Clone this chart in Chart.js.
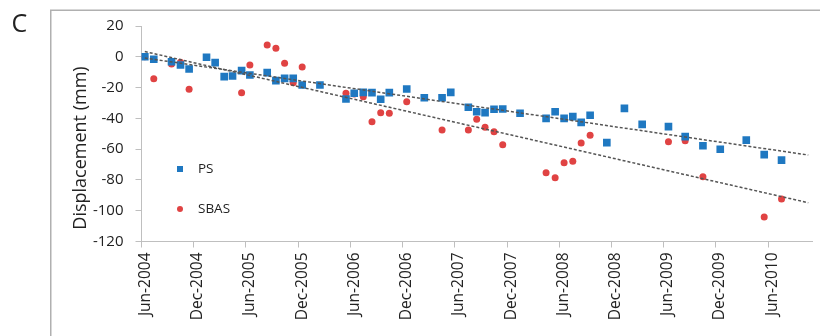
<!DOCTYPE html>
<html>
<head>
<meta charset="utf-8">
<script src="https://cdn.jsdelivr.net/npm/chart.js@4.4.1/dist/chart.umd.min.js"></script>
<style>
html,body{margin:0;padding:0;background:#fff;}
canvas{display:block;}
</style>
</head>
<body>
<canvas id="c" width="820" height="336"></canvas>
<script>
// x values are months since 1 Jun 2004
const tickMonths = [0, 6, 12, 18, 24, 30, 36, 42, 48, 54, 60, 66, 72];
const tickLabels = ['Jun-2004','Dec-2004','Jun-2005','Dec-2005','Jun-2006','Dec-2006','Jun-2007','Dec-2007','Jun-2008','Dec-2008','Jun-2009','Dec-2009','Jun-2010'];
const yTicks = [20, 0, -20, -40, -60, -80, -100, -120];

const psMonths = [0.38,1.41,3.45,4.48,5.47,7.47,8.46,9.50,10.46,11.50,12.45,14.44,15.44,16.44,17.43,18.46,20.50,23.49,24.44,25.48,26.48,27.48,28.47,30.47,32.49,34.53,35.53,37.55,38.51,39.47,40.50,41.50,43.49,46.48,47.52,48.55,49.55,50.51,51.54,53.46,55.48,57.52,60.54,62.46,64.50,66.49,69.48,71.54,73.53];
const psValues = [0,-1.6,-3.2,-5.3,-7.9,-0.3,-3.8,-12.9,-12.5,-9.0,-11.8,-10.3,-15.5,-14.0,-14.0,-18.3,-18.3,-27.4,-23.7,-23.1,-23.3,-27.6,-23.3,-20.9,-26.6,-26.6,-23.1,-32.8,-35.7,-36.3,-34.1,-33.9,-36.7,-40.0,-35.7,-40.0,-38.9,-42.6,-38.0,-55.8,-33.5,-43.9,-45.4,-51.9,-57.8,-60.1,-54.1,-63.6,-67.1];

const sbasMonths = [0.38,1.41,3.45,4.48,5.47,11.50,12.45,14.44,15.44,16.44,17.43,18.46,23.49,24.44,25.48,26.48,27.48,28.47,30.47,34.53,37.55,38.51,39.47,40.50,41.50,46.48,47.52,48.55,49.55,50.51,51.54,60.54,62.46,64.50,71.54,73.53];
const sbasValues = [0,-14.2,-4.7,-3.6,-21.1,-23.3,-5.3,7.7,5.5,-4.2,-16.8,-6.6,-23.7,-24.2,-25.9,-42.2,-36.3,-36.7,-29.2,-47.6,-47.6,-40.6,-45.8,-48.7,-57.1,-75.3,-78.6,-68.8,-67.9,-56.0,-51.0,-55.2,-54.5,-77.9,-104.1,-92.4];

const psTrendMonths = [0.38, 76.6];
const psTrendValues = [-0.8, -63.8];
const sbasTrendMonths = [0.38, 76.6];
const sbasTrendValues = [3.4, -94.8];

const panelLabel = 'C';
const yTitle = 'Displacement (mm)';
const psLabel = 'PS';
const sbasLabel = 'SBAS';

const BLUE = '#1f78c1';
const RED = '#e04343';
const TREND = '#555555';
const AXIS = '#bfbfbf';
const TEXT = '#222222';

function pts(xs, ys) { return xs.map((x, i) => ({x: x, y: ys[i]})); }

Chart.defaults.font.family = '"Open Sans", sans-serif';
Chart.defaults.color = TEXT;

const deco = {
  id: 'deco',
  beforeDraw(chart) {
    const ctx = chart.ctx;
    ctx.save();
    ctx.fillStyle = '#ffffff';
    ctx.fillRect(0, 0, chart.width, chart.height);
    ctx.strokeStyle = '#b0b0b0';
    ctx.lineWidth = 1.5;
    ctx.strokeRect(50.75, 10.25, 900, 500);
    ctx.fillStyle = TEXT;
    ctx.font = '25px "Open Sans"';
    ctx.textAlign = 'left';
    ctx.textBaseline = 'alphabetic';
    ctx.fillText(panelLabel, 11.5, 32);
    ctx.translate(86, 148);
    ctx.rotate(-Math.PI / 2);
    ctx.font = '18px "Open Sans"';
    ctx.textAlign = 'center';
    ctx.fillText(yTitle, 0, 0);
    ctx.restore();
  },
  afterDraw(chart) {
    const ctx = chart.ctx;
    ctx.save();
    const items = chart.data.datasets.filter(d => d.legendY !== undefined);
    items.forEach(d => {
      const y = d.legendY;
      ctx.fillStyle = d.backgroundColor;
      if (d.pointStyle === 'rect') {
        ctx.fillRect(177, y - 3, 6, 6);
      } else {
        ctx.beginPath();
        ctx.arc(180, y, 3, 0, Math.PI * 2);
        ctx.fill();
      }
      ctx.fillStyle = TEXT;
      ctx.font = '13.5px "Open Sans"';
      ctx.textAlign = 'left';
      ctx.textBaseline = 'middle';
      ctx.fillText(d.label, 198, y);
    });
    ctx.restore();
  }
};

new Chart(document.getElementById('c'), {
  type: 'scatter',
  data: {
    datasets: [
      { label: psLabel, data: pts(psMonths, psValues), pointStyle: 'rect', pointRadius: 5.4, backgroundColor: BLUE, borderWidth: 0, order: 2, legendY: 169 },
      { label: sbasLabel, data: pts(sbasMonths, sbasValues), pointStyle: 'circle', pointRadius: 3.5, backgroundColor: RED, borderWidth: 0, order: 2, legendY: 209 },
      { label: 'PS trend', type: 'line', data: pts(psTrendMonths, psTrendValues), showLine: true, pointRadius: 0, borderColor: TREND, borderWidth: 1.5, borderDash: [3, 2], fill: false, order: 1 },
      { label: 'SBAS trend', type: 'line', data: pts(sbasTrendMonths, sbasTrendValues), showLine: true, pointRadius: 0, borderColor: TREND, borderWidth: 1.5, borderDash: [3, 2], fill: false, order: 1 }
    ]
  },
  options: {
    responsive: false,
    animation: false,
    layout: { padding: { left: 0, right: 8, top: 26, bottom: 0 } },
    plugins: { legend: { display: false }, tooltip: { enabled: false } },
    scales: {
      x: {
        type: 'linear',
        min: 0,
        max: 77.03,
        afterBuildTicks: (s) => { s.ticks = tickMonths.map(v => ({ value: v })); },
        afterFit: (s) => { s.height = 94.5; },
        ticks: {
          callback: (v, i) => tickLabels[i],
          minRotation: 90, maxRotation: 90,
          labelOffset: 4,
          padding: 5,
          autoSkip: false,
          color: TEXT,
          font: { size: 15.5 }
        },
        grid: { drawOnChartArea: false, drawTicks: true, tickLength: 6, color: AXIS },
        border: { display: true, color: AXIS, width: 1 }
      },
      y: {
        min: -120,
        max: 20,
        afterBuildTicks: (s) => { s.ticks = yTicks.map(v => ({ value: v })); },
        afterFit: (s) => { s.width = 141.5; },
        ticks: { padding: 12, color: TEXT, font: { size: 15 } },
        grid: { drawOnChartArea: false, drawTicks: true, tickLength: 6, color: AXIS },
        border: { display: true, color: AXIS, width: 1 }
      }
    }
  },
  plugins: [deco]
});
</script>
</body>
</html>
